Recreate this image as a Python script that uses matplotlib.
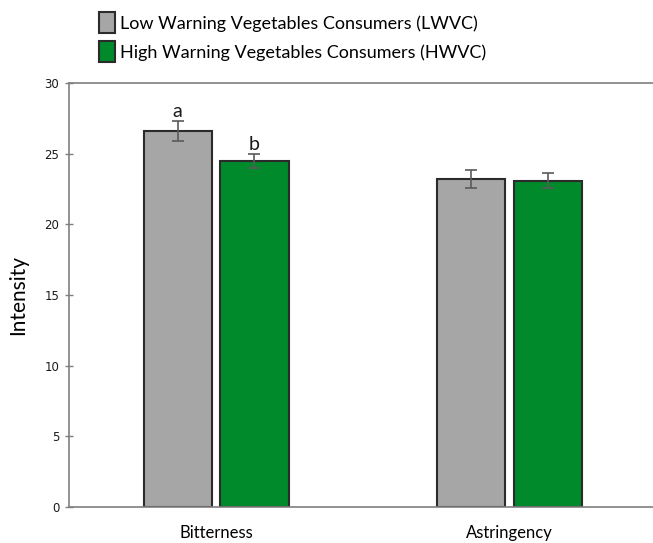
import matplotlib
matplotlib.use('Agg')
import matplotlib.pyplot as plt
import numpy as np

plt.rcParams['font.family'] = ['Lato', 'DejaVu Sans']

attributes = ['Bitterness', 'Astringency']
lwvc_mean = [26.6, 23.2]
lwvc_err = [0.7, 0.65]
hwvc_mean = [24.5, 23.1]
hwvc_err = [0.5, 0.5]
letters_lwvc = ['a', '']
letters_hwvc = ['b', '']
series_names = ['Low Warning Vegetables Consumers (LWVC)',
                'High Warning Vegetables Consumers (HWVC)']
yticks = [0, 5, 10, 15, 20, 25, 30]

GRAY = '#A6A6A6'
GREEN = '#008A2B'
EDGE = '#2b2b2b'
AXIS = '#7f7f7f'

fig = plt.figure(figsize=(6.53, 5.43), dpi=100)
ax = fig.add_axes([0.1057, 0.0663, 0.8943, 0.7808])

x = np.arange(len(attributes))
width = 0.232
offset = 0.131

err_kw = dict(ecolor='#5a5a5a', elinewidth=1.2, capsize=4, capthick=1.2)
b1 = ax.bar(x - offset, lwvc_mean, width, yerr=lwvc_err, color=GRAY,
            edgecolor=EDGE, linewidth=1.5, error_kw=err_kw, label=series_names[0])
b2 = ax.bar(x + offset, hwvc_mean, width, yerr=hwvc_err, color=GREEN,
            edgecolor=EDGE, linewidth=1.5, error_kw=err_kw, label=series_names[1])

# significance letters above the error bars
for xi, m, e, t in zip(x - offset, lwvc_mean, lwvc_err, letters_lwvc):
    if t:
        ax.text(xi, m + e + 0.05, t, ha='center', va='bottom', fontsize=14, color='#1a1a1a')
for xi, m, e, t in zip(x + offset, hwvc_mean, hwvc_err, letters_hwvc):
    if t:
        ax.text(xi, m + e + 0.05, t, ha='center', va='bottom', fontsize=14, color='#1a1a1a')

ax.set_xlim(-0.501, 1.489)
ax.set_ylim(0, 30)
ax.set_yticks(yticks)
ax.set_yticklabels([str(v) for v in yticks], fontfamily='DejaVu Sans',
                   fontsize=8.5, color='#1a1a1a')
ax.set_xticks(x)
ax.set_xticklabels(attributes, fontsize=12)
ax.tick_params(axis='x', length=0, pad=13)
ax.tick_params(axis='y', direction='inout', length=6, width=1, color=AXIS, pad=4)
ax.set_ylabel('Intensity', fontsize=15, labelpad=12)

for side in ['left', 'bottom', 'top']:
    ax.spines[side].set_color(AXIS)
    ax.spines[side].set_linewidth(1.2)
ax.spines['right'].set_visible(False)

fig.legend(handles=[b1, b2], labels=series_names, loc='upper left',
           bbox_to_anchor=(0.129, 1.004), frameon=False, fontsize=13,
           handlelength=0.9, handleheight=1.4, handletextpad=0.3,
           labelspacing=0.45, borderaxespad=0.4)

fig.savefig('out.png', dpi=100, facecolor='white')
